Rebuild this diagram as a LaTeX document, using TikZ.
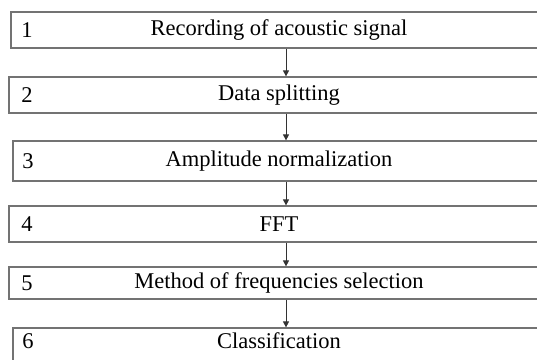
\documentclass[tikz,border=0pt]{standalone}
\usepackage{fontspec}
\setmainfont{Liberation Serif}
\usetikzlibrary{arrows.meta}
\begin{document}
\begin{tikzpicture}[x=1pt,y=1pt,
  stepbox/.style={draw=black!55,line width=1.2pt,rectangle,inner sep=0pt,
    font=\fontsize{22.5}{26}\selectfont},
  numlab/.style={inner sep=0pt,font=\fontsize{22.5}{26}\selectfont},
  conn/.style={draw=black!80,line width=0.8pt,-{Triangle[width=6pt,length=6pt]}}]
\useasboundingbox (0,0) rectangle (537,359);
\clip (0,0) rectangle (537,359);
\fill[white] (0,0) rectangle (537,359);
\node[stepbox,minimum width=536pt,minimum height=36pt] (b1) at (279,329) {Recording of acoustic signal};
\node[stepbox,minimum width=540pt,minimum height=36pt] (b2) at (279,264) {Data splitting};
\node[stepbox,minimum width=532pt,minimum height=40pt] (b3) at (279,198) {Amplitude normalization};
\node[stepbox,minimum width=540pt,minimum height=36pt] (b4) at (279,135) {FFT};
\node[stepbox,minimum width=540pt,minimum height=32pt] (b5) at (279,76) {Method of frequencies selection};
\node[stepbox,minimum width=532pt,minimum height=40pt] (b6) at (279,11) {};
\node[numlab] (t6) at (279,18) {Classification};
\node[numlab] (n1) at (27,329) {1};
\node[numlab] (n2) at (27,264) {2};
\node[numlab] (n3) at (28,198) {3};
\node[numlab] (n4) at (27,135) {4};
\node[numlab] (n5) at (27,76) {5};
\node[numlab] (n6) at (28,18) {6};
\coordinate (ax) at (286,0);
\draw[conn] (b1.south -| ax) -- (b2.north -| ax);
\draw[conn] (b2.south -| ax) -- (b3.north -| ax);
\draw[conn] (b3.south -| ax) -- (b4.north -| ax);
\draw[conn] (b4.south -| ax) -- (b5.north -| ax);
\draw[conn] (b5.south -| ax) -- (b6.north -| ax);
\end{tikzpicture}
\end{document}
